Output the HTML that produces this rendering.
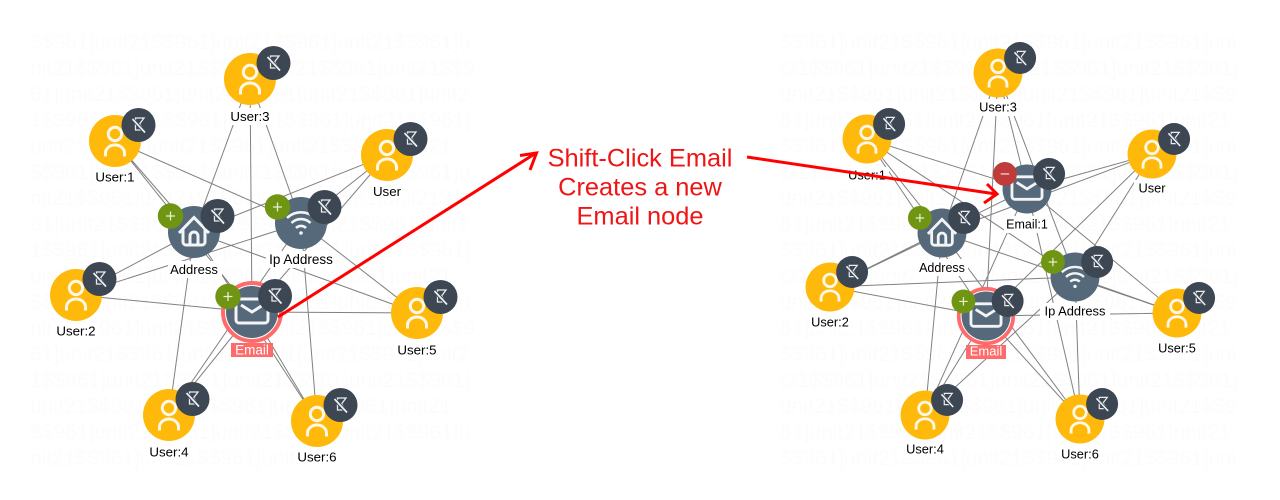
<!DOCTYPE html>
<html><head><meta charset="utf-8"><style>
html,body{margin:0;padding:0;width:1280px;height:500px;background:#fff;overflow:hidden}
.w{position:absolute;top:30px;height:442px;overflow:hidden;font:21px/26px "Liberation Sans",sans-serif;color:#fcfcfc;word-break:break-all}
svg{position:absolute;left:0;top:0}
</style></head><body>
<div class="w" style="left:30px;width:450px">$$961]unit21$$961]unit21$$961]unit21$$961]unit21$$961]unit21$$961]unit21$$961]unit21$$961]unit21$$961]unit21$$961]unit21$$961]unit21$$961]unit21$$961]unit21$$961]unit21$$961]unit21$$961]unit21$$961]unit21$$961]unit21$$961]unit21$$961]unit21$$961]unit21$$961]unit21$$961]unit21$$961]unit21$$961]unit21$$961]unit21$$961]unit21$$961]unit21$$961]unit21$$961]unit21$$961]unit21$$961]unit21$$961]unit21$$961]unit21$$961]unit21$$961]unit21$$961]unit21$$961]unit21$$961]unit21$$961]unit21$$961]unit21$$961]unit21$$961]unit21$$961]unit21$$961]unit21$$961]unit21$$961]unit21$$961]unit21$$961]unit21$$961]unit21$$961]unit21$$961]unit21$$961]unit21$$961]unit21$$961]unit21$$961]unit21$$961]unit21$$961]unit21$$961]unit21$$961]unit21</div>
<div class="w" style="left:780px;width:460px">$$961]unit21$$961]unit21$$961]unit21$$961]unit21$$961]unit21$$961]unit21$$961]unit21$$961]unit21$$961]unit21$$961]unit21$$961]unit21$$961]unit21$$961]unit21$$961]unit21$$961]unit21$$961]unit21$$961]unit21$$961]unit21$$961]unit21$$961]unit21$$961]unit21$$961]unit21$$961]unit21$$961]unit21$$961]unit21$$961]unit21$$961]unit21$$961]unit21$$961]unit21$$961]unit21$$961]unit21$$961]unit21$$961]unit21$$961]unit21$$961]unit21$$961]unit21$$961]unit21$$961]unit21$$961]unit21$$961]unit21$$961]unit21$$961]unit21$$961]unit21$$961]unit21$$961]unit21$$961]unit21$$961]unit21$$961]unit21$$961]unit21$$961]unit21$$961]unit21$$961]unit21$$961]unit21$$961]unit21$$961]unit21$$961]unit21$$961]unit21$$961]unit21$$961]unit21$$961]unit21$$961]unit21$$961]unit21$$961]unit21$$961]unit21</div>
<svg width="1280" height="500" viewBox="0 0 1280 500" font-family="'Liberation Sans',sans-serif">
<defs>
<g id="badge"><circle r="17" fill="#3c4753"/><path d="M-3-7H5.500L1-1 5 5H-3Z" fill="none" stroke="#e9edf0" stroke-width="1.300"/><path d="M-6.500-6.500 7 8" stroke="#3c4753" stroke-width="3.500"/><path d="M-6-6 6.500 7.500" stroke="#eef1f3" stroke-width="1.700"/></g>
<g id="user"><circle r="26" fill="#ffb90b"/><circle cy="-7" r="6.7" fill="none" stroke="#fff8e8" stroke-width="3"/><path d="M-9.5 15.5v-3.500a9.500 8 0 0 1 19 0v3.500" fill="none" stroke="#fff8e8" stroke-width="3"/><use href="#badge" x="23.500" y="-16"/></g>
<g id="plus"><circle r="12.700" fill="#6f9512"/><path d="M-4.500 0H4.500M0-4.500V4.500" stroke="#e8f0d4" stroke-width="1.300"/></g>
<g id="mailI" fill="none" stroke="#f2f4f6" stroke-width="3"><path d="M-16-10a3 3 0 0 1 3-3H13a3 3 0 0 1 3 3V8a3 3 0 0 1-3 3H-13a3 3 0 0 1-3-3Z"/><path d="M-11-7 0 0 11-7"/></g>
<g id="house"><circle r="26" fill="#56697b"/><g fill="none" stroke="#f2f4f6" stroke-width="3"><path d="M-15 1 0-14.500 15 1"/><path d="M-11-3V10a3 3 0 0 0 3 3H8a3 3 0 0 0 3-3V-3"/><path d="M-4 13V4a4 4 0 0 1 8 0v9"/></g><use href="#plus" x="-23.500" y="-16"/><use href="#badge" x="23.500" y="-16"/></g>
<g id="wifi"><circle r="26" fill="#56697b"/><g fill="none" stroke="#f2f4f6" stroke-width="2.600"><path d="M-14-5A20 20 0 0 1 14-5"/><path d="M-9.500 0A13.500 13.500 0 0 1 9.500 0"/><path d="M-5 5A7 7 0 0 1 5 5"/></g><circle cy="10" r="1.800" fill="#f2f4f6"/><use href="#plus" x="-23.500" y="-16"/><use href="#badge" x="23.500" y="-16"/></g>
<g id="email"><circle r="29" fill="#fff" stroke="#ff6b6b" stroke-width="4"/><circle r="26" fill="#56697b"/><use href="#mailI"/><use href="#plus" x="-24" y="-15.500"/><use href="#badge" x="23" y="-16"/></g>
<g id="email1"><circle r="26" fill="#56697b"/><use href="#mailI"/><circle cx="-23.500" cy="-16" r="12.700" fill="#bf3c3a"/><path d="M-28-16H-19" stroke="#f6dcdc" stroke-width="1.300"/><use href="#badge" x="23.500" y="-16"/></g>
</defs>

<!-- left edges -->
<path fill="none" stroke="#808080" stroke-width="1" d="M115 141L194 232M115 141L301 223M115 141L252 312M76 295L194 232M76 295L301 223M76 295L252 312M250 79L194 232M250 79L301 223M250 79L252 312M169 415L194 232M169 415L301 223M169 415L252 312M417 313L194 232M417 313L301 223M417 313L252 312M317 421L194 232M317 421L301 223M317 421L252 312M387 155L194 232M387 155L301 223M387 155L252 312"/>
<!-- right edges -->
<path fill="none" stroke="#808080" stroke-width="1" d="M867 139L942 233M867 139L1075 277M867 139L986 316M867 139L1027 189M830 287L942 233M830 287L1075 277M830 287L986 316M830 287L1027 189M998 73L942 233M998 73L1075 277M998 73L986 316M998 73L1027 189M925 415L942 233M925 415L1075 277M925 415L986 316M925 415L1027 189M1177 313L942 233M1177 313L1075 277M1177 313L986 316M1177 313L1027 189M1080 419L942 233M1080 419L1075 277M1080 419L986 316M1080 419L1027 189M1152 154L942 233M1152 154L1075 277M1152 154L986 316M1152 154L1027 189"/>

<!-- label backgrounds -->
<g fill="#fff">
<rect x="228" y="108" width="44" height="17"/><rect x="93" y="169" width="44" height="17"/><rect x="369" y="183" width="36" height="17"/><rect x="168" y="261" width="54" height="17"/><rect x="266" y="251" width="70" height="17"/><rect x="53" y="323" width="46" height="17"/><rect x="394" y="342" width="46" height="17"/><rect x="146" y="444" width="46" height="17"/><rect x="294" y="449" width="46" height="17"/>
<rect x="976" y="99" width="44" height="17"/><rect x="845" y="167" width="44" height="17"/><rect x="1134" y="180" width="36" height="17"/><rect x="1004" y="216" width="46" height="17"/><rect x="916" y="259" width="52" height="17"/><rect x="1040" y="303" width="70" height="17"/><rect x="808" y="314" width="44" height="17"/><rect x="1155" y="340" width="44" height="17"/><rect x="903" y="441" width="44" height="17"/><rect x="1058" y="446" width="44" height="17"/>
</g>

<!-- left nodes -->
<use href="#user" transform="translate(250 79)"/>
<use href="#user" transform="translate(115 141)"/>
<use href="#user" transform="translate(387 155)"/>
<use href="#user" transform="translate(76 295)"/>
<use href="#user" transform="translate(417 313)"/>
<use href="#user" transform="translate(169 415)"/>
<use href="#user" transform="translate(317 421)"/>
<use href="#house" transform="translate(194 232)"/>
<use href="#wifi" transform="translate(301 223)"/>
<use href="#email" transform="translate(252 312)"/>
<rect x="231" y="343" width="42" height="14" fill="#ff6b6b"/>

<!-- right nodes -->
<use href="#user" transform="translate(998 73) scale(.94)"/>
<use href="#user" transform="translate(867 139) scale(.94)"/>
<use href="#user" transform="translate(1152 154) scale(.94)"/>
<use href="#user" transform="translate(830 287) scale(.94)"/>
<use href="#user" transform="translate(1177 313) scale(.94)"/>
<use href="#user" transform="translate(925 415) scale(.94)"/>
<use href="#user" transform="translate(1080 419) scale(.94)"/>
<use href="#house" transform="translate(942 233) scale(.94)"/>
<use href="#wifi" transform="translate(1075 277) scale(.94)"/>
<use href="#email1" transform="translate(1027 189) scale(.94)"/>
<use href="#email" transform="translate(986 316) scale(.94)"/>
<rect x="966" y="345" width="40" height="14" fill="#ff6b6b"/>

<!-- labels -->
<g fill="#000" text-anchor="middle" font-size="13.300">
<text x="250" y="121">User:3</text><text x="115" y="181.500">User:1</text><text x="387" y="196">User</text>
<text x="194" y="274" font-size="13">Address</text><text x="301" y="264" font-size="13.500">Ip Address</text>
<text x="76" y="335.500">User:2</text><text x="417" y="354.500">User:5</text><text x="169" y="456.500">User:4</text><text x="317" y="461.500">User:6</text>
<text x="998" y="111.500" font-size="12.800">User:3</text><text x="867" y="179.500" font-size="12.800">User:1</text><text x="1152" y="192.500" font-size="12.800">User</text>
<text x="1027" y="228.500" font-size="12.500">Email:1</text><text x="942" y="272" font-size="12.500">Address</text><text x="1075" y="315.500" font-size="12.900">Ip Address</text>
<text x="830" y="326.500" font-size="12.800">User:2</text><text x="1177" y="352.500" font-size="12.800">User:5</text><text x="925" y="453.500" font-size="12.800">User:4</text><text x="1080" y="458.500" font-size="12.800">User:6</text>
</g>
<text x="252" y="354.500" fill="#fff" font-size="13.500" text-anchor="middle">Email</text>
<text x="986" y="355.500" fill="#fff" font-size="13" text-anchor="middle">Email</text>

<!-- caption -->
<g fill="#f01414" font-size="25.400" text-anchor="middle">
<text x="640" y="166.500">Shift-Click Email</text>
<text x="640" y="195.500">Creates a new</text>
<text x="640" y="224.500">Email node</text>
</g>

<!-- arrows -->
<g fill="none" stroke="#f00" stroke-width="3">
<path d="M278 317L536 153"/><path d="M520 155.500L536.500 153 530 170"/>
<path d="M747 157L996 194"/><path d="M987 184L997 194 984 203"/>
</g>
</svg>
</body></html>
